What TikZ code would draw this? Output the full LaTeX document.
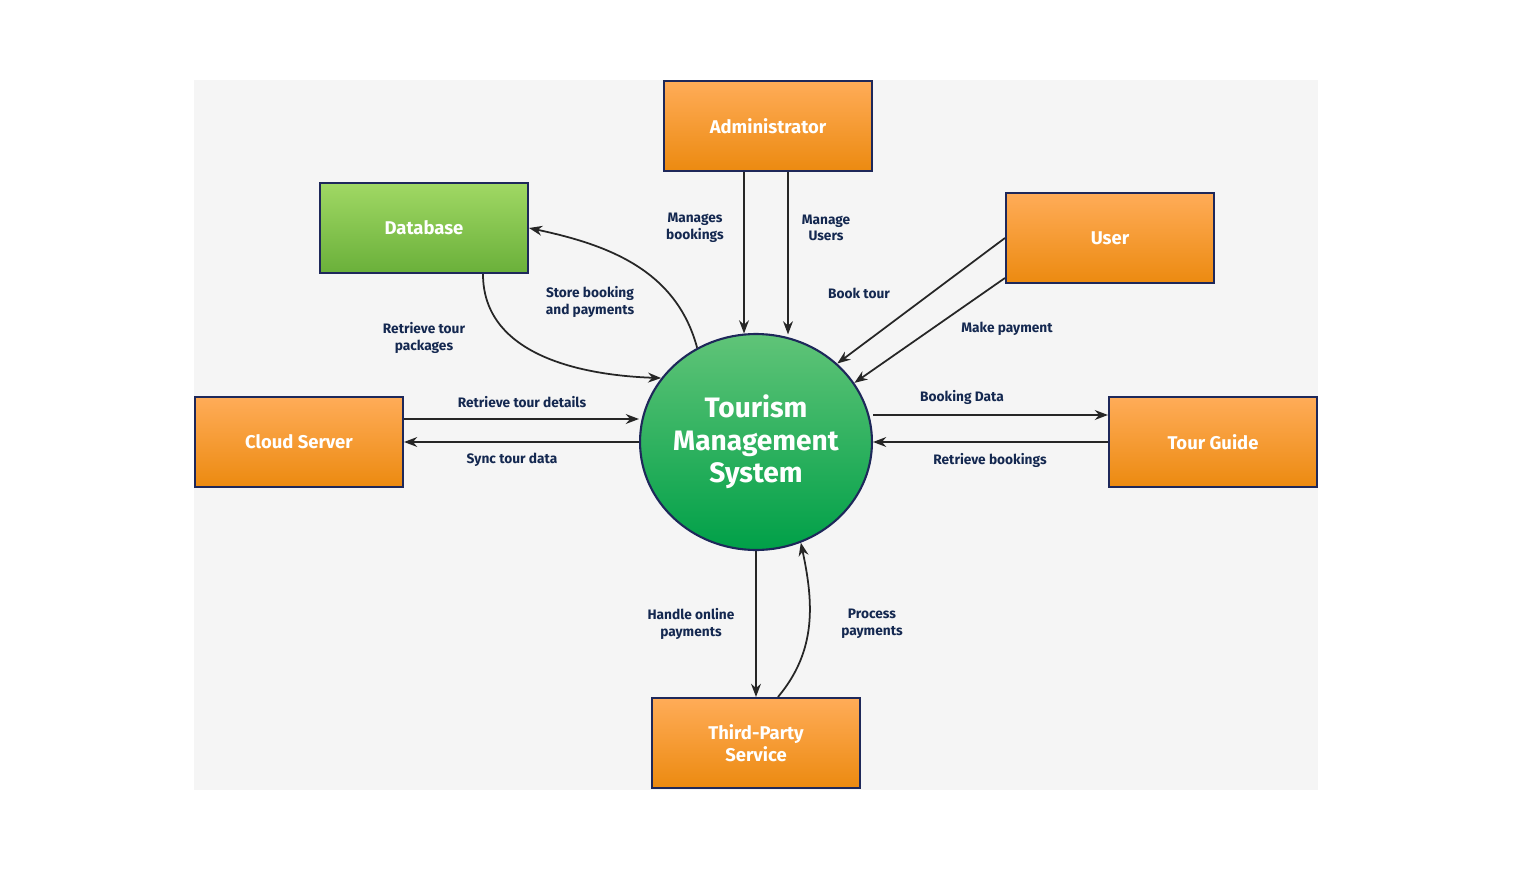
\documentclass[tikz,border=0pt]{standalone}
\usepackage{fontspec}
\setmainfont{Fira Sans}
\usetikzlibrary{shapes.geometric,positioning,arrows.meta,calc}
\definecolor{boxtop}{RGB}{255,172,88}
\definecolor{boxbot}{RGB}{236,138,16}
\definecolor{dbtop}{RGB}{160,216,100}
\definecolor{dbbot}{RGB}{106,176,58}
\definecolor{hubtop}{RGB}{96,196,120}
\definecolor{hubbot}{RGB}{0,160,72}
\definecolor{edgeblue}{RGB}{30,40,90}
\definecolor{labelblue}{RGB}{20,40,80}
\definecolor{bgpaper}{RGB}{245,245,245}
\begin{document}
\begin{tikzpicture}[
    x=0.02cm, y=-0.02cm,
    >=Stealth,
    entity/.style={
      rectangle,
      draw=edgeblue,
      line width=1.2pt,
      top color=boxtop,
      bottom color=boxbot,
      minimum width=4.16cm,
      minimum height=1.8cm,
      align=center,
      text=white,
      font=\fontsize{10.5}{12.5}\selectfont\bfseries
    },
    store/.style={
      entity,
      top color=dbtop,
      bottom color=dbbot
    },
    hub/.style={
      ellipse,
      draw=edgeblue,
      line width=1.2pt,
      top color=hubtop,
      bottom color=hubbot,
      minimum width=4.64cm,
      minimum height=4.32cm,
      align=center,
      text=white,
      inner sep=-6pt,
      font=\fontsize{16}{18.5}\selectfont\bfseries
    },
    flow/.style={
      ->,
      line width=1pt,
      black!85
    },
    flowlabel/.style={
      align=center,
      text=labelblue,
      inner sep=1pt,
      font=\fontsize{7.8}{9.5}\selectfont\bfseries
    }
  ]

  % Canvas
  \useasboundingbox (0,0) rectangle (1516,872);
  \fill[bgpaper] (194,80) rectangle (1318,790);

  % Nodes
  \node[hub] (tms) at (756,442) {Tourism\\Management\\System};
  \node[entity] (admin) at (768,126) {Administrator};
  \node[store] (db) at (424,228) {Database};
  \node[entity] (user) at (1110,238) {User};
  \node[entity] (cloud) at (299,442) {Cloud Server};
  \node[entity] (guide) at (1213,442) {Tour Guide};
  \node[entity] (third) at (756,743) {Third-Party\\Service};

  % Administrator
  \coordinate (adm1) at ($(admin.south)+(-24,0)$);
  \coordinate (adm2) at ($(admin.south)+(20,0)$);
  \draw[flow] (adm1) -- (adm1 |- tms.96);
  \draw[flow] (adm2) -- (adm2 |- tms.80);
  \node[flowlabel] (lmb) at (695,228) {Manages\\bookings};
  \node[flowlabel] (lmu) at (826,228) {Manage\\Users};

  % User
  \draw[flow] (user.west) -- (tms.44);
  \draw[flow] ($(user.west)+(0,40)$) -- (tms.31);
  \node[flowlabel] (lbt) at (859,293) {Book tour};
  \node[flowlabel] (lmp) at (1007,329) {Make payment};

  % Database
  \draw[flow] ($(db.south)+(59,0)$) to[out=-90, in=178] (tms.146);
  \draw[flow] (tms.122) to[out=105, in=-12] (db.east);
  \node[flowlabel] (lrp) at (424,338) {Retrieve tour\\packages};
  \node[flowlabel] (lsb) at (590,302) {Store booking\\and payments};

  % Cloud Server
  \coordinate (cl1) at ($(cloud.east)+(0,-23)$);
  \draw[flow] (cl1) -- (cl1 -| tms.west);
  \draw[flow] (tms.west) -- (cloud.east);
  \node[flowlabel] (lrd) at (522,402) {Retrieve tour details};
  \node[flowlabel] (lsd) at (512,460) {Sync tour data};

  % Tour Guide
  \coordinate (tg1) at ($(guide.west)+(0,-27)$);
  \draw[flow] (tg1 -| tms.east) -- (tg1);
  \draw[flow] (guide.west) -- (tms.east);
  \node[flowlabel] (lbd) at (962,397) {Booking Data};
  \node[flowlabel] (lrb) at (990,460) {Retrieve bookings};

  % Third-Party Service
  \draw[flow] (tms.south) -- (third.north);
  \draw[flow] ($(third.north)+(22,0)$) to[out=50, in=-78] (tms.-66);
  \node[flowlabel] (lho) at (691,624) {Handle online\\payments};
  \node[flowlabel] (lpp) at (872,624) {Process\\payments};

\end{tikzpicture}
\end{document}
